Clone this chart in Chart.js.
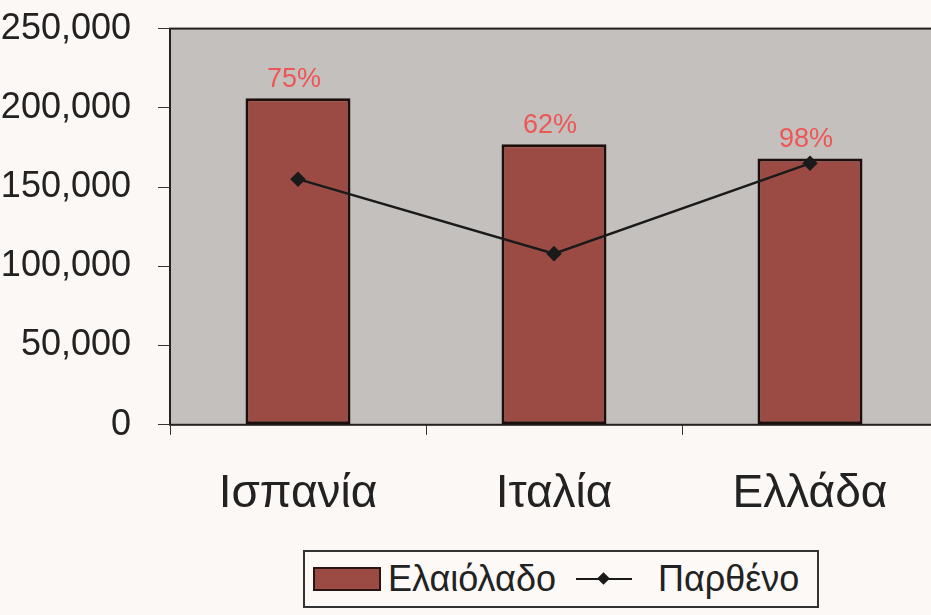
<!DOCTYPE html>
<html lang="el">
<head>
    <meta charset="UTF-8">
    <title>Ελαιόλαδο - Παρθένο</title>
    <script src="https://cdn.jsdelivr.net/npm/chart.js"></script>
    <style>
        html, body { margin: 0; padding: 0; background: #fcf8f6; overflow: hidden; width: 931px; height: 615px; }
        #chart { position: absolute; left: -8px; top: -20px; }
        #legend {
            position: absolute; left: 303px; top: 550px; width: 512px; height: 54px;
            border: 2px solid #333; background: #fcf9f7;
            display: flex; align-items: center;
            font-family: "Liberation Sans", Arial, sans-serif; font-size: 36px; color: #222;
        }
        .swatch { width: 64px; height: 20px; background: #9c4b44; border: 2px solid #2a1512; margin: 0 7px 0 8px; }
        .linesym { position: relative; width: 56px; height: 20px; margin: 0 26px 0 20px; }
        .linesym:before { content: ""; position: absolute; left: 0; right: 0; top: 9px; height: 2px; background: #1a1a1a; }
        .linesym:after { content: ""; position: absolute; left: 23px; top: 5px; width: 9px; height: 9px; background: #1a1a1a; transform: rotate(45deg); }
    </style>
</head>
<body>
    <canvas id="chart" width="960" height="580"></canvas>
    <div id="legend">
        <span class="swatch"></span><span>Ελαιόλαδο</span>
        <span class="linesym"></span><span>Παρθένο</span>
    </div>

    <script>
        // δεδομένα
        const countries = ["Ισπανία", "Ιταλία", "Ελλάδα"];
        const oliveOil = [206000, 177000, 168000];
        const virgin = [155000, 108000, 165000];
        const pctLabels = ["75%", "62%", "98%"];

        // γκρι φόντο και πλαίσιο περιοχής σχεδίασης
        const plotBg = {
            id: "plotBg",
            beforeDraw(chart) {
                const { ctx, chartArea: a } = chart;
                ctx.save();
                ctx.fillStyle = "#c3c0be";
                ctx.fillRect(a.left, a.top, a.right - a.left, a.bottom - a.top);
                ctx.strokeStyle = "#222";
                ctx.lineWidth = 2;
                ctx.strokeRect(a.left, a.top, a.right - a.left, a.bottom - a.top);
                ctx.restore();
            }
        };

        // ποσοστά πάνω από τις στήλες
        const pctPlugin = {
            id: "pctPlugin",
            afterDatasetsDraw(chart) {
                const ctx = chart.ctx;
                const bars = chart.getDatasetMeta(1).data;
                ctx.save();
                ctx.fillStyle = "#ee5655";
                ctx.font = "27px 'Liberation Sans', Arial, sans-serif";
                ctx.textAlign = "center";
                ctx.textBaseline = "middle";
                bars.forEach((b, i) => ctx.fillText(pctLabels[i], b.x - 4, b.y - 19));
                ctx.restore();
            }
        };

        new Chart(document.getElementById("chart").getContext("2d"), {
            data: {
                labels: countries,
                datasets: [
                    {
                        type: "line",
                        label: "Παρθένο",
                        data: virgin,
                        borderColor: "#1a1a1a",
                        borderWidth: 2.5,
                        pointStyle: "rectRot",
                        pointRadius: 6,
                        pointBackgroundColor: "#1a1a1a",
                        pointBorderColor: "#1a1a1a",
                        tension: 0,
                        order: 0
                    },
                    {
                        type: "bar",
                        label: "Ελαιόλαδο",
                        data: oliveOil,
                        backgroundColor: "#9c4b44",
                        borderColor: "#1e0f0d",
                        borderWidth: 3,
                        borderSkipped: false,
                        categoryPercentage: 1,
                        barPercentage: 0.41,
                        order: 1
                    }
                ]
            },
            options: {
                responsive: false,
                animation: false,
                layout: { padding: { top: 6, right: 14, bottom: 6, left: 0 } },
                plugins: { legend: { display: false }, tooltip: { enabled: false } },
                scales: {
                    x: {
                        grid: { drawOnChartArea: false, tickLength: 10, color: "#333", offset: true },
                        border: { display: false },
                        ticks: { color: "#222", padding: 32, font: { family: "'Liberation Sans', Arial, sans-serif", size: 46 } }
                    },
                    y: {
                        min: 0,
                        max: 250000,
                        afterFit(s) { s.width = 178; },
                        grid: { drawOnChartArea: false, tickLength: 12, color: "#333" },
                        border: { display: false },
                        ticks: {
                            stepSize: 50000,
                            color: "#222",
                            padding: 27,
                            font: { family: "'Liberation Sans', Arial, sans-serif", size: 36 },
                            callback: v => v.toLocaleString("en-US")
                        }
                    }
                }
            },
            plugins: [plotBg, pctPlugin]
        });
    </script>
</body>
</html>
